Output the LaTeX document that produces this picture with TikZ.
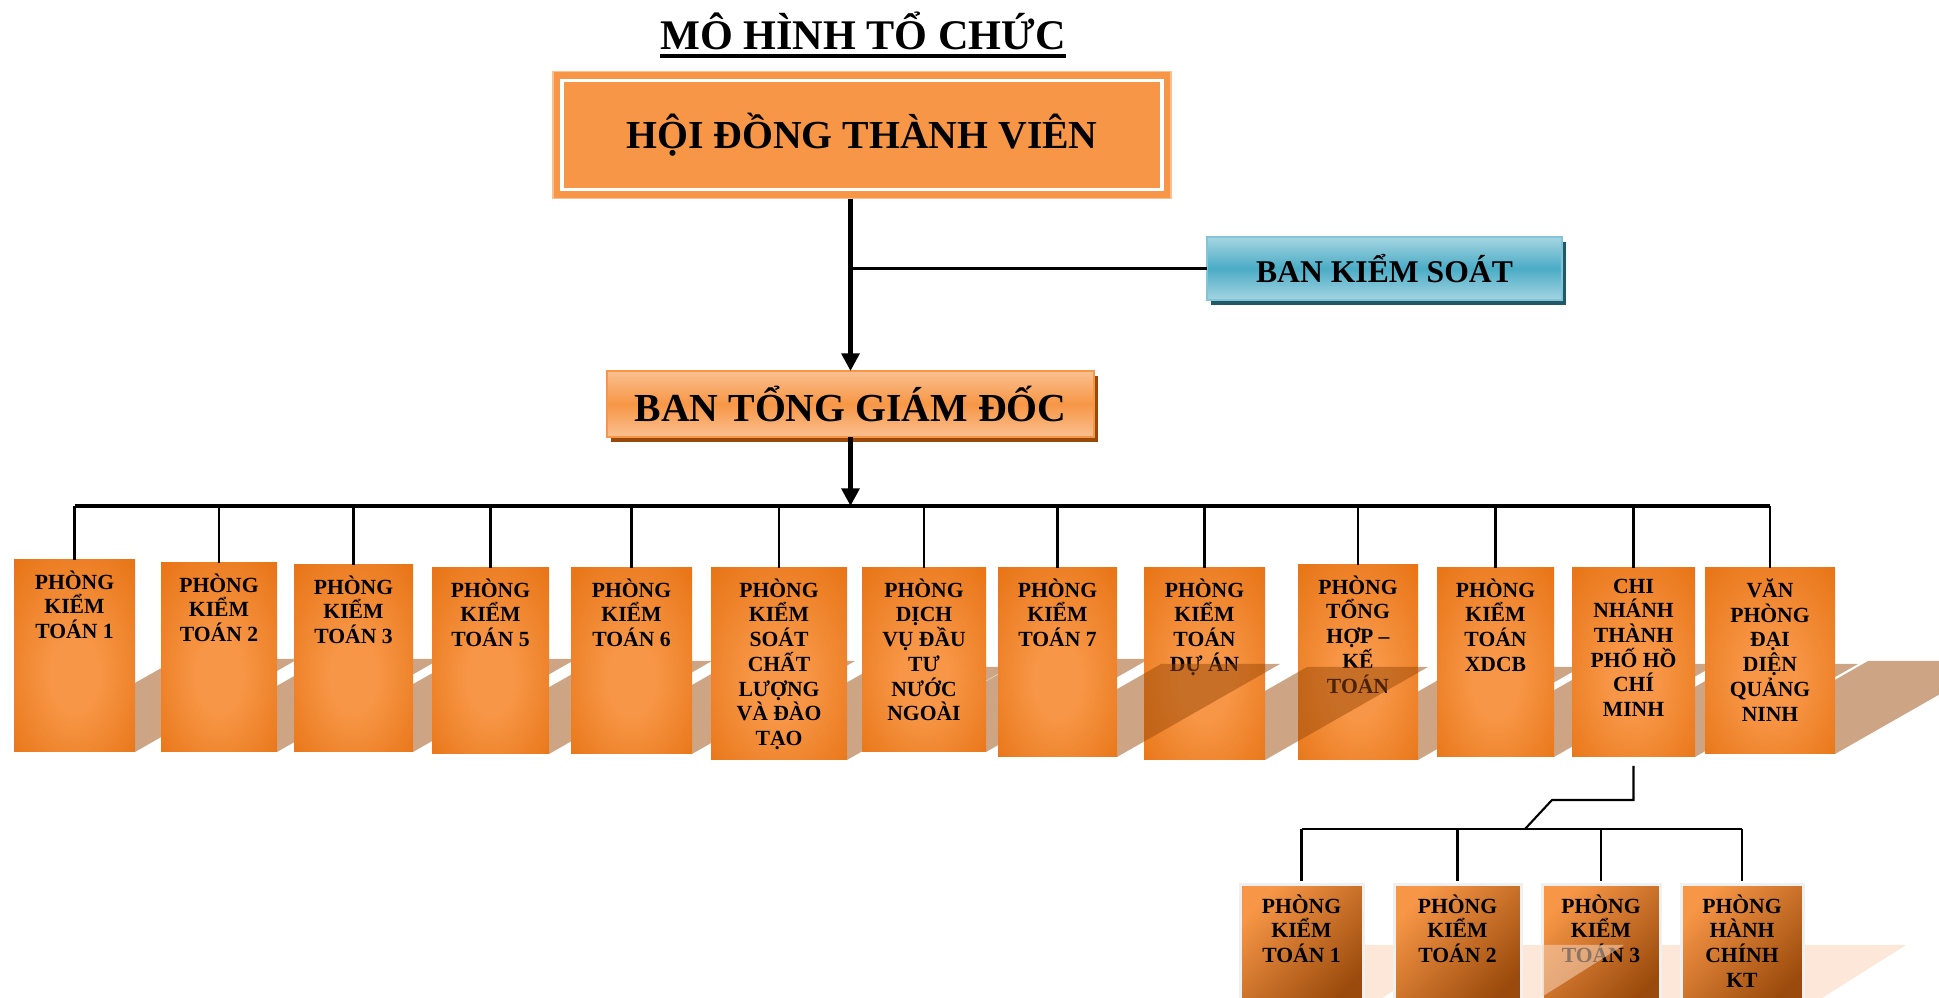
\documentclass[tikz,border=0pt]{standalone}
\usepackage{fontspec}
\setmainfont{Liberation Serif}
\usetikzlibrary{arrows.meta,calc,positioning,shadows}

\definecolor{cam}{HTML}{F79646}
\definecolor{camdam}{HTML}{E46C0A}
\definecolor{camnhat}{HTML}{FAC090}
\definecolor{nau}{HTML}{984807}
\definecolor{naudam}{HTML}{9A4A0C}
\definecolor{xanh}{HTML}{4BACC6}
\definecolor{xanhnhat}{HTML}{A5D5E2}
\definecolor{xanhdam}{HTML}{215968}
\definecolor{dao}{HTML}{F9D3B8}

\pgfdeclareradialshading{phongsang}{\pgfpoint{0bp}{-6bp}}{color(0bp)=(cam); color(10bp)=(cam); color(43bp)=(camdam); color(50bp)=(camdam)}

% gach chan tieu de
\newcommand{\gachchan}[1]{\leavevmode\setbox0=\hbox{#1}\rlap{\copy0}\rule[-2.4pt]{\wd0}{1.2pt}}
% bong nghieng sau moi phong
\newcommand{\vebong}[5]{\fill[#1] (#2,#4) -- (#3,#4) -- (#3+#5,#4-93) -- (#2+#5,#4-93) -- cycle;}
\newcommand{\vebongcon}[4]{\fill[#1] (#2,#4) -- (#3,#4) -- (#3+103,#4-65) -- (#2+103,#4-65) -- cycle;}

\begin{document}
\begin{tikzpicture}[x=0.01cm, y=-0.01cm,
  hop/.style={inner sep=0pt, outer sep=0pt},
  phong/.style={hop, shading=phongsang},
  chuphong/.style={align=center, inner sep=0pt, font=\fontsize{6.15}{7.03}\selectfont\bfseries},
  bong/.style={fill=nau, fill opacity=0.49},
  phongcon/.style={hop, draw=black!6, line width=0.85pt, top color=cam, bottom color=naudam, shading angle=45},
  bongcon/.style={fill=dao, fill opacity=0.55},
  noi/.style={line width=0.6pt},
  truc/.style={line width=1.2pt},
  muiten/.style={-{Triangle[length=5pt,width=5pt]}}]
\useasboundingbox (0,0) rectangle (1939,998);
\clip (0,0) rectangle (1939,998);

% Tieu de
\node[font=\fontsize{12}{14}\selectfont\bfseries] (tieude) at (863,35) {\gachchan{MÔ HÌNH TỔ CHỨC}};

% Hoi dong thanh vien
\node[hop, fill=cam, draw=camnhat, line width=0.4pt, minimum width=6.18cm, minimum height=1.27cm,
  font=\fontsize{11.3}{13}\selectfont\bfseries] (hdtv) at (862,135) {HỘI ĐỒNG THÀNH VIÊN};
\draw[white, line width=1.1pt] ($(hdtv.north west)+(9,9)$) rectangle ($(hdtv.south east)-(9,9)$);

% Ban kiem soat, ban tong giam doc
\node[hop, draw=xanh!70!white, line width=0.6pt, top color=xanhnhat, bottom color=xanhnhat, middle color=xanh,
  drop shadow={shadow xshift=0.04cm, shadow yshift=-0.05cm, fill=xanhdam, opacity=1},
  minimum width=3.55cm, minimum height=0.63cm, font=\fontsize{9}{10}\selectfont\bfseries] (bks) at (1384.5,268.5) {BAN KIỂM SOÁT};
\node[hop, draw=cam, line width=0.6pt, top color=camnhat, bottom color=camnhat, middle color=cam,
  drop shadow={shadow xshift=0.04cm, shadow yshift=-0.05cm, fill=nau, opacity=1},
  minimum width=4.87cm, minimum height=0.66cm, font=\fontsize{11.3}{13}\selectfont\bfseries] (btgd) at (850.5,404) {BAN TỔNG GIÁM ĐỐC};

\draw[truc, muiten] (hdtv.south -| btgd.north) -- (btgd.north);
\draw[line width=0.85pt] (bks.west -| btgd.north) -- (bks.west);
\coordinate (thanh) at (0,506);
\draw[truc, muiten] (btgd.south) -- (btgd.south |- thanh);

% Cac phong
\def\dsphong{pka/14/135/560/752/{PHÒNG\\KIỂM\\TOÁN 1},
  pkb/161/277/563/752/{PHÒNG\\KIỂM\\TOÁN 2},
  pkc/294/413/565/752/{PHÒNG\\KIỂM\\TOÁN 3},
  pke/432/549/568/754/{PHÒNG\\KIỂM\\TOÁN 5},
  pkf/571/692/568/754/{PHÒNG\\KIỂM\\TOÁN 6},
  pkscl/711/847/568/760/{PHÒNG\\KIỂM\\SOÁT\\CHẤT\\LƯỢNG\\VÀ ĐÀO\\TẠO},
  pdv/862/986/568/752/{PHÒNG\\DỊCH\\VỤ ĐẦU\\TƯ\\NƯỚC\\NGOÀI},
  pkg/998/1117/568/757/{PHÒNG\\KIỂM\\TOÁN 7},
  pkda/1144/1265/568/760/{PHÒNG\\KIỂM\\TOÁN\\DỰ ÁN},
  pth/1298/1418/565/760/{PHÒNG\\TỔNG\\HỢP –\\KẾ\\TOÁN},
  pxd/1437/1554/568/757/{PHÒNG\\KIỂM\\TOÁN\\XDCB},
  cn/1572/1695/568/757/{CHI\\NHÁNH\\THÀNH\\PHỐ HỒ\\CHÍ\\MINH},
  vp/1705/1835/568/754/{VĂN\\PHÒNG\\ĐẠI\\DIỆN\\QUẢNG\\NINH}}
\foreach \ten/\xt/\xp/\yt/\yd/\chu in \dsphong{
  \vebong{bong}{\xt}{\xp}{\yd}{163}
}
\foreach \ten/\xt/\xp/\yt/\yd/\chu in \dsphong{
  \node[phong, minimum width={(\xp-\xt)*0.01cm}, minimum height={(\yd-\yt)*0.01cm}] (\ten) at ({(\xt+\xp)/2},{(\yt+\yd)/2}) {};
  \node[chuphong, anchor=north] (\ten-chu) at ([yshift=-0.1cm]\ten.north) {\chu};
  \draw[noi] (\ten.north |- thanh) -- (\ten.north);
}
\draw[truc] (pka.north |- thanh) -- (vp.north |- thanh);
% bong phu len phong ben canh
\begin{scope}
  \clip (pkda.north west) rectangle (pkda.south east);
  \vebong{bong}{998}{1117}{757}{163}
\end{scope}
\begin{scope}
  \clip (pth.north west) rectangle (pth.south east);
  \vebong{bong}{1144}{1265}{760}{163}
\end{scope}

% Cac phong thuoc chi nhanh
\def\dscon{sa/1240/1363/{PHÒNG\\KIỂM\\TOÁN 1},
  sb/1394/1521/{PHÒNG\\KIỂM\\TOÁN 2},
  sc/1542/1660/{PHÒNG\\KIỂM\\TOÁN 3},
  sd/1681/1803/{PHÒNG\\HÀNH\\CHÍNH\\KT}}
\foreach \ten/\xt/\xp/\chu in \dscon{
  \vebongcon{bongcon}{\xt}{\xp}{1010}
}
\foreach \ten/\xt/\xp/\chu in \dscon{
  \node[phongcon, minimum width={(\xp-\xt)*0.01cm}, minimum height=1.25cm] (\ten) at ({(\xt+\xp)/2},947.5) {};
  \node[chuphong, anchor=north] (\ten-chu) at ([yshift=-0.09cm]\ten.north) {\chu};
}
\begin{scope}
  \clip (sc.north west) rectangle (sc.south east);
  \vebongcon{bongcon}{1394}{1521}{1010}
\end{scope}

\coordinate (khuc) at (1552,800);
\coordinate (re) at (1525,829);
\draw[noi] ([yshift=-0.09cm]cn.south) -- (cn.south |- khuc) -- (khuc) -- (re);
\draw[noi] (sa.north |- re) -- (sd.north |- re);
\foreach \c in {sa,sb,sc,sd}{
  \draw[noi] (\c.north |- re) -- ([yshift=0.04cm]\c.north);
}
\end{tikzpicture}
\end{document}
